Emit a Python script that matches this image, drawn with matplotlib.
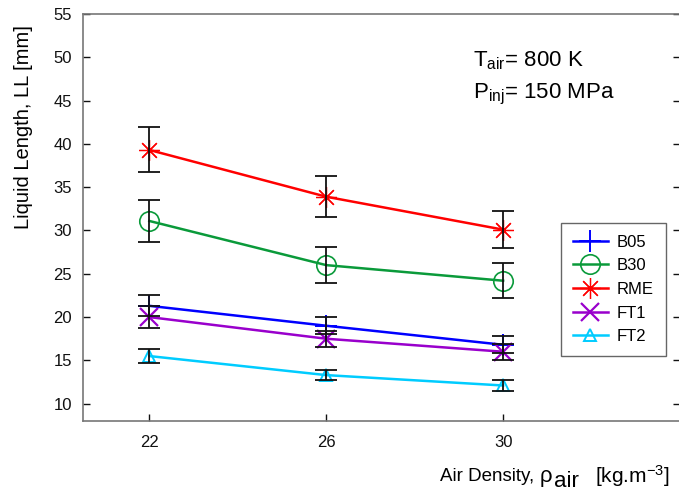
import matplotlib
matplotlib.use("Agg")
import matplotlib.pyplot as plt

plt.rcParams['font.family'] = ['Liberation Sans', 'DejaVu Sans']
plt.rcParams['mathtext.fontset'] = 'custom'
plt.rcParams['mathtext.rm'] = 'Liberation Sans'
plt.rcParams['mathtext.it'] = 'Liberation Sans'

density = [22, 26, 30]

fuels = ["B05", "B30", "RME", "FT1", "FT2"]
ll_mean = {
    "B05": [21.3, 19.0, 16.8],
    "B30": [31.1, 26.0, 24.2],
    "RME": [39.3, 33.9, 30.1],
    "FT1": [20.0, 17.5, 16.0],
    "FT2": [15.5, 13.3, 12.1],
}
ll_err = {
    "B05": [1.2, 1.0, 1.0],
    "B30": [2.4, 2.1, 2.0],
    "RME": [2.6, 2.4, 2.1],
    "FT1": [1.3, 0.95, 0.9],
    "FT2": [0.8, 0.6, 0.6],
}

colors = {"B05": "#0000FF", "B30": "#0A9A3A", "RME": "#FF0000", "FT1": "#9900CC", "FT2": "#00CCFF"}
markers = {"B05": "+", "B30": "o", "RME": (8, 2, 0), "FT1": "x", "FT2": "^"}
msizes = {"B05": 16, "B30": 14, "RME": 15, "FT1": 13, "FT2": 9}
mwidths = {"B05": 1.4, "B30": 1.2, "RME": 0.9, "FT1": 1.6, "FT2": 1.4}

fig = plt.figure(figsize=(6.79, 4.94), dpi=100)
ax = fig.add_axes([83 / 679, 1 - 421 / 494, 597 / 679, 407 / 494])

for f in fuels:
    ax.plot(density, ll_mean[f], color=colors[f], lw=1.8, marker=markers[f],
            ms=msizes[f], mfc='none', mec=colors[f], mew=mwidths[f], label=f, zorder=2)
    ax.errorbar(density, ll_mean[f], yerr=ll_err[f], fmt='none', ecolor='#111111',
                elinewidth=1.3, capsize=8, capthick=1.3, zorder=3)

ax.set_xlim(20.5, 34)
ax.set_ylim(8, 55)
ax.set_xticks(density)
ax.set_yticks(range(10, 56, 5))
ax.tick_params(direction='in', length=5, width=1, labelsize=12, colors='#111111',
               right=True, top=False, pad=10)
ax.tick_params(axis='y', pad=8)
for s in ax.spines.values():
    s.set_color('#777777')
    s.set_linewidth(1.2)

fig.text(24 / 679, 1 - 127 / 494, 'Liquid Length, LL [mm]', rotation=90,
         ha='center', va='center', fontsize=14.5)

# x label: plain text, then a larger rho with its subscript, then units
xl_y = 1 - 476 / 494
t1 = fig.text(440 / 679, xl_y, 'Air Density, ', ha='left', va='center', fontsize=13.5)
fig.canvas.draw()
r = fig.canvas.get_renderer()
x = t1.get_window_extent(r).x1
t2 = fig.text(x / 679, xl_y - 2 / 494, r'$\rho$', ha='left', va='center', fontsize=16,
              family='DejaVu Serif')
x = t2.get_window_extent(r).x1
t3 = fig.text((x + 1) / 679, xl_y - 5 / 494, 'air', ha='left', va='center', fontsize=16)
x = t3.get_window_extent(r).x1
fig.text((x + 16) / 679, xl_y, r'[kg.m$^{\mathregular{-3}}$]', ha='left', va='center',
         fontsize=15)

ax.text(473 / 679, 1 - 61 / 494, r'T$_{air}$= 800 K', transform=fig.transFigure,
        ha='left', va='center', fontsize=16)
ax.text(473 / 679, 1 - 94 / 494, r'P$_{inj}$= 150 MPa', transform=fig.transFigure,
        ha='left', va='center', fontsize=16)

leg = ax.legend(loc='upper left', bbox_to_anchor=(561 / 679, 1 - 223 / 494),
                bbox_transform=fig.transFigure, borderaxespad=0, fontsize=12,
                handlelength=2.1, fancybox=False, edgecolor='#666666', framealpha=1,
                borderpad=0.7, labelspacing=0.52, handletextpad=0.55)
leg.get_frame().set_linewidth(1.0)

fig.savefig("out.png", dpi=100)
